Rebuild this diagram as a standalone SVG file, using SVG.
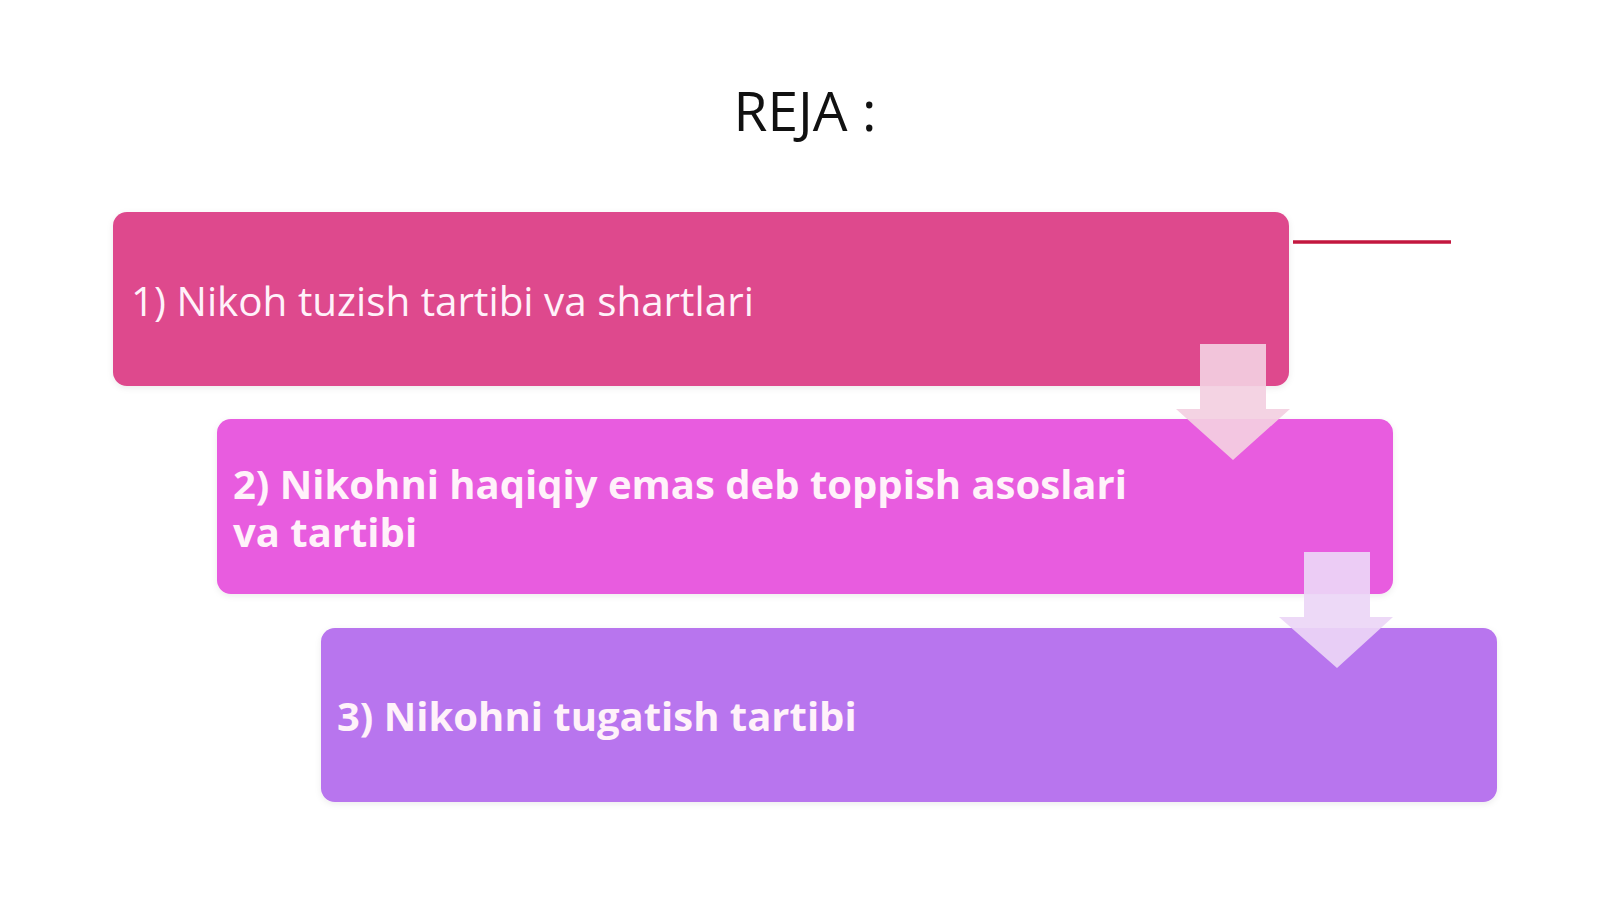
<svg xmlns="http://www.w3.org/2000/svg" width="1600" height="899" viewBox="0 0 1600 899">
<style>
.box-text{font-family:"Open Sans","Noto Sans",sans-serif;font-size:40px;fill:#FFF2FA}
.bold{font-weight:700}
.title{font-family:"Open Sans","Noto Sans",sans-serif;font-size:55px;fill:#111111}
</style>
<defs>
<filter id="sh" x="-5%" y="-10%" width="110%" height="130%">
<feDropShadow dx="0" dy="2" stdDeviation="3" flood-color="#000" flood-opacity="0.08"/>
</filter>
</defs>
<rect width="1600" height="899" fill="#FFFFFF"/>
<g id="title"><text class="title" x="805" y="131" text-anchor="middle">REJA :</text></g>
<g id="node1">
<rect x="113" y="212" width="1176" height="174" rx="14" fill="#DE4A8D" filter="url(#sh)"/>
<text class="box-text" x="131" y="316" style="font-size:40.4px">1) Nikoh tuzish tartibi va shartlari</text>
</g>
<g id="node2">
<rect x="217" y="419" width="1176" height="175" rx="14" fill="#E85BDF" filter="url(#sh)"/>
<text class="box-text bold" x="233" y="499"><tspan x="233" y="499">2) Nikohni haqiqiy emas deb toppish asoslari</tspan><tspan x="233" y="547">va tartibi</tspan></text>
</g>
<g id="node3">
<rect x="321" y="628" width="1176" height="174" rx="14" fill="#B874EE" filter="url(#sh)"/>
<text class="box-text bold" x="337" y="731">3) Nikohni tugatish tartibi</text>
</g>
<g id="connectors">
<polygon points="1200,344 1266,344 1266,409 1290,409 1233,460 1176,409 1200,409" fill="#F3CFE1" fill-opacity="0.92"/>
<polygon points="1304,552 1370,552 1370,617 1393,617 1337,668 1279,617 1304,617" fill="#ECD6F6" fill-opacity="0.92"/>
<line x1="1293" y1="242" x2="1451" y2="242" stroke="#C3173F" stroke-width="3.5"/>
</g>
</svg>
